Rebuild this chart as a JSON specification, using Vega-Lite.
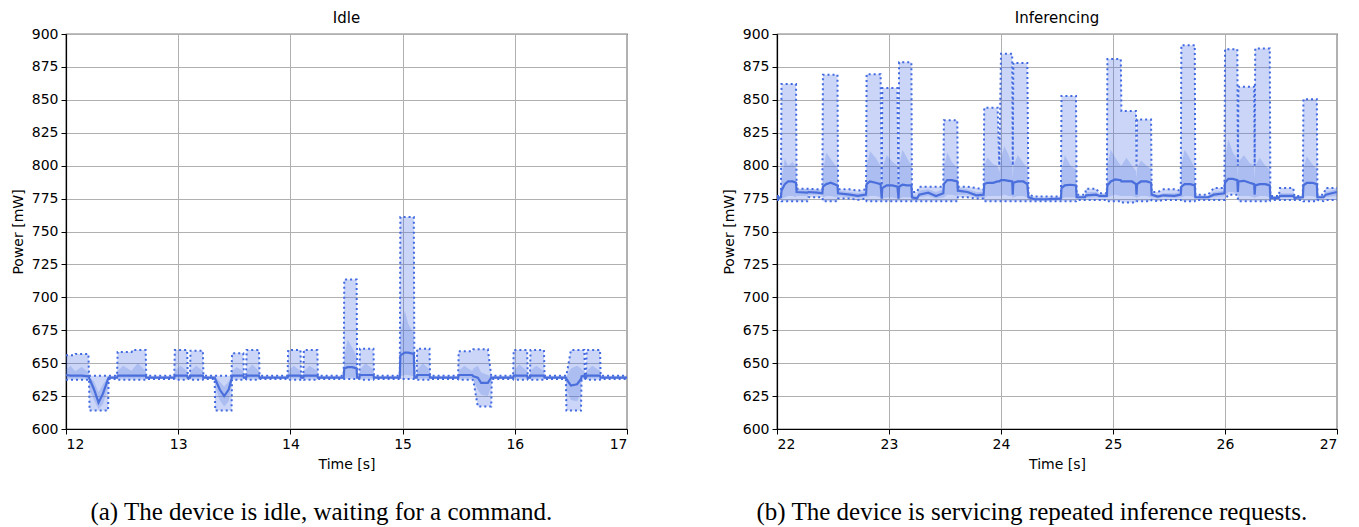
{
  "$schema": "https://vega.github.io/schema/vega-lite/v6.json",
  "padding": {"left": 10, "top": 10, "right": 10, "bottom": 2},
  "config": {
    "view": {"stroke": "#000000", "strokeWidth": 1.2},
    "axis": {
      "grid": true, "gridColor": "#b0b0b0", "gridWidth": 1,
      "domain": true, "domainColor": "#000000", "domainWidth": 1.2,
      "tickColor": "#000000", "tickSize": 5, "tickWidth": 1,
      "labelFont": "DejaVu Sans", "labelFontSize": 14, "labelColor": "#000000", "labelPadding": 3, "labelOverlap": false,
      "titleFont": "DejaVu Sans", "titleFontSize": 14, "titleFontWeight": "normal", "titleColor": "#000000", "titlePadding": 6
    },
    "title": {"font": "DejaVu Sans", "fontSize": 15, "fontWeight": "normal", "color": "#000000", "offset": 1}
  },
  "datasets": {
    "idle": [
      {"t":12.0,"mn":637.5,"mx":656,"m":641,"lo":638.5,"hi":645},
      {"t":12.04,"mn":637.5,"mx":656,"m":640.5,"lo":638.5,"hi":648},
      {"t":12.08,"mn":637.5,"mx":656,"m":640.5,"lo":638.5,"hi":644},
      {"t":12.085,"mn":637.5,"mx":657,"m":640.5,"lo":638.5,"hi":644},
      {"t":12.14,"mn":637.5,"mx":657,"m":640.5,"lo":638.5,"hi":647},
      {"t":12.2,"mn":637.5,"mx":657,"m":640,"lo":638.5,"hi":643},
      {"t":12.205,"mn":638,"mx":640.5,"m":639,"lo":638.5,"hi":639.5},
      {"t":12.21,"mn":614,"mx":640.5,"m":638,"lo":630,"hi":639.5},
      {"t":12.25,"mn":614,"mx":640.5,"m":630,"lo":622,"hi":636},
      {"t":12.29,"mn":614,"mx":640.5,"m":620,"lo":615,"hi":628},
      {"t":12.33,"mn":614,"mx":640.5,"m":627,"lo":619,"hi":634},
      {"t":12.375,"mn":614,"mx":640.5,"m":638,"lo":632,"hi":639.5},
      {"t":12.38,"mn":638,"mx":640.5,"m":639,"lo":638.5,"hi":639.5},
      {"t":12.455,"mn":638,"mx":640.5,"m":639,"lo":638.5,"hi":639.5},
      {"t":12.46,"mn":637.5,"mx":658.5,"m":640.5,"lo":638.5,"hi":644},
      {"t":12.51,"mn":637.5,"mx":658.5,"m":640.5,"lo":638.5,"hi":648},
      {"t":12.585,"mn":637.5,"mx":658.5,"m":640.5,"lo":638.5,"hi":644},
      {"t":12.59,"mn":637.5,"mx":660,"m":640.5,"lo":638.5,"hi":645},
      {"t":12.64,"mn":637.5,"mx":660,"m":640.5,"lo":638.5,"hi":650},
      {"t":12.71,"mn":637.5,"mx":660,"m":640.5,"lo":638.5,"hi":644},
      {"t":12.715,"mn":638,"mx":640.5,"m":639,"lo":638.5,"hi":639.5},
      {"t":12.965,"mn":638,"mx":640.5,"m":639,"lo":638.5,"hi":639.5},
      {"t":12.97,"mn":637.5,"mx":660,"m":640.5,"lo":638.5,"hi":644},
      {"t":13.02,"mn":637.5,"mx":660,"m":640.5,"lo":638.5,"hi":648},
      {"t":13.08,"mn":637.5,"mx":660,"m":640.5,"lo":638.5,"hi":644},
      {"t":13.085,"mn":638,"mx":640.5,"m":639,"lo":638.5,"hi":639.5},
      {"t":13.105,"mn":638,"mx":640.5,"m":639,"lo":638.5,"hi":639.5},
      {"t":13.11,"mn":637.5,"mx":659.5,"m":640.5,"lo":638.5,"hi":644},
      {"t":13.16,"mn":637.5,"mx":659.5,"m":640.5,"lo":638.5,"hi":648},
      {"t":13.22,"mn":637.5,"mx":659.5,"m":640.5,"lo":638.5,"hi":644},
      {"t":13.225,"mn":638,"mx":640.5,"m":639,"lo":638.5,"hi":639.5},
      {"t":13.325,"mn":638,"mx":640.5,"m":639,"lo":638.5,"hi":639.5},
      {"t":13.33,"mn":614,"mx":640.5,"m":638,"lo":632,"hi":639.5},
      {"t":13.37,"mn":614,"mx":640.5,"m":630,"lo":622,"hi":636},
      {"t":13.41,"mn":614,"mx":640.5,"m":625,"lo":617,"hi":632},
      {"t":13.45,"mn":614,"mx":640.5,"m":630,"lo":621,"hi":636},
      {"t":13.475,"mn":614,"mx":640.5,"m":638,"lo":634,"hi":639.5},
      {"t":13.48,"mn":637.5,"mx":657.5,"m":640.5,"lo":638.5,"hi":644},
      {"t":13.52,"mn":637.5,"mx":657.5,"m":640.5,"lo":638.5,"hi":647},
      {"t":13.58,"mn":637.5,"mx":657.5,"m":640.5,"lo":638.5,"hi":644},
      {"t":13.585,"mn":638,"mx":640.5,"m":639,"lo":638.5,"hi":639.5},
      {"t":13.605,"mn":638,"mx":640.5,"m":639,"lo":638.5,"hi":639.5},
      {"t":13.61,"mn":637.5,"mx":660,"m":640.5,"lo":638.5,"hi":644},
      {"t":13.66,"mn":637.5,"mx":660,"m":640.5,"lo":638.5,"hi":649},
      {"t":13.72,"mn":637.5,"mx":660,"m":640.5,"lo":638.5,"hi":644},
      {"t":13.725,"mn":638,"mx":640.5,"m":639,"lo":638.5,"hi":639.5},
      {"t":13.975,"mn":638,"mx":640.5,"m":639,"lo":638.5,"hi":639.5},
      {"t":13.98,"mn":637.5,"mx":660,"m":640.5,"lo":638.5,"hi":644},
      {"t":14.03,"mn":637.5,"mx":660,"m":640.5,"lo":638.5,"hi":648},
      {"t":14.09,"mn":637.5,"mx":660,"m":640.5,"lo":638.5,"hi":644},
      {"t":14.095,"mn":638,"mx":640.5,"m":639,"lo":638.5,"hi":639.5},
      {"t":14.115,"mn":638,"mx":640.5,"m":639,"lo":638.5,"hi":639.5},
      {"t":14.12,"mn":637.5,"mx":660,"m":640.5,"lo":638.5,"hi":644},
      {"t":14.17,"mn":637.5,"mx":660,"m":640.5,"lo":638.5,"hi":648},
      {"t":14.24,"mn":637.5,"mx":660,"m":640.5,"lo":638.5,"hi":644},
      {"t":14.245,"mn":638,"mx":640.5,"m":639,"lo":638.5,"hi":639.5},
      {"t":14.475,"mn":638,"mx":640.5,"m":639,"lo":638.5,"hi":639.5},
      {"t":14.48,"mn":638,"mx":713.5,"m":646,"lo":639,"hi":655},
      {"t":14.51,"mn":638,"mx":713.5,"m":647,"lo":639,"hi":668},
      {"t":14.55,"mn":638,"mx":713.5,"m":647,"lo":639,"hi":662},
      {"t":14.59,"mn":638,"mx":713.5,"m":646,"lo":639,"hi":655},
      {"t":14.595,"mn":638,"mx":640.5,"m":639,"lo":638.5,"hi":639.5},
      {"t":14.615,"mn":638,"mx":640.5,"m":639,"lo":638.5,"hi":639.5},
      {"t":14.62,"mn":637.5,"mx":661,"m":641,"lo":638.5,"hi":645},
      {"t":14.67,"mn":637.5,"mx":661,"m":641,"lo":638.5,"hi":650},
      {"t":14.74,"mn":637.5,"mx":661,"m":641,"lo":638.5,"hi":645},
      {"t":14.745,"mn":638,"mx":640.5,"m":639,"lo":638.5,"hi":639.5},
      {"t":14.975,"mn":638,"mx":640.5,"m":639,"lo":638.5,"hi":639.5},
      {"t":14.98,"mn":638,"mx":761,"m":656,"lo":640,"hi":672},
      {"t":15.02,"mn":638,"mx":761,"m":658,"lo":641,"hi":690},
      {"t":15.05,"mn":638,"mx":761,"m":658,"lo":641,"hi":680},
      {"t":15.1,"mn":638,"mx":761,"m":657,"lo":640,"hi":672},
      {"t":15.105,"mn":638,"mx":640.5,"m":639,"lo":638.5,"hi":639.5},
      {"t":15.125,"mn":638,"mx":640.5,"m":639,"lo":638.5,"hi":639.5},
      {"t":15.13,"mn":637.5,"mx":661,"m":641,"lo":638.5,"hi":645},
      {"t":15.18,"mn":637.5,"mx":661,"m":641,"lo":638.5,"hi":650},
      {"t":15.24,"mn":637.5,"mx":661,"m":641,"lo":638.5,"hi":645},
      {"t":15.245,"mn":638,"mx":640.5,"m":639,"lo":638.5,"hi":639.5},
      {"t":15.495,"mn":638,"mx":640.5,"m":639,"lo":638.5,"hi":639.5},
      {"t":15.5,"mn":637.5,"mx":659,"m":641,"lo":638.5,"hi":644},
      {"t":15.55,"mn":637.5,"mx":659,"m":641,"lo":638.5,"hi":648},
      {"t":15.62,"mn":637.5,"mx":659,"m":641,"lo":638.5,"hi":644},
      {"t":15.63,"mn":637,"mx":660.5,"m":640,"lo":637,"hi":646},
      {"t":15.67,"mn":617,"mx":660.5,"m":639,"lo":630,"hi":648},
      {"t":15.7,"mn":617,"mx":660.5,"m":635,"lo":626,"hi":643},
      {"t":15.76,"mn":617,"mx":660.5,"m":635,"lo":625,"hi":641},
      {"t":15.79,"mn":617,"mx":640.5,"m":639,"lo":632,"hi":640},
      {"t":15.795,"mn":638,"mx":640.5,"m":639,"lo":638.5,"hi":639.5},
      {"t":15.985,"mn":638,"mx":640.5,"m":639,"lo":638.5,"hi":639.5},
      {"t":15.99,"mn":637.5,"mx":660,"m":640.5,"lo":638.5,"hi":644},
      {"t":16.04,"mn":637.5,"mx":660,"m":640.5,"lo":638.5,"hi":649},
      {"t":16.11,"mn":637.5,"mx":660,"m":640.5,"lo":638.5,"hi":644},
      {"t":16.115,"mn":638,"mx":640.5,"m":639,"lo":638.5,"hi":639.5},
      {"t":16.135,"mn":638,"mx":640.5,"m":639,"lo":638.5,"hi":639.5},
      {"t":16.14,"mn":637.5,"mx":660,"m":640.5,"lo":638.5,"hi":644},
      {"t":16.19,"mn":637.5,"mx":660,"m":640.5,"lo":638.5,"hi":648},
      {"t":16.26,"mn":637.5,"mx":660,"m":640.5,"lo":638.5,"hi":644},
      {"t":16.265,"mn":638,"mx":640.5,"m":639,"lo":638.5,"hi":639.5},
      {"t":16.455,"mn":638,"mx":640.5,"m":639,"lo":638.5,"hi":639.5},
      {"t":16.46,"mn":614,"mx":640.5,"m":638,"lo":630,"hi":639.5},
      {"t":16.5,"mn":614,"mx":660,"m":633,"lo":622,"hi":646},
      {"t":16.555,"mn":614,"mx":660,"m":634,"lo":621,"hi":648},
      {"t":16.59,"mn":614,"mx":660,"m":638,"lo":628,"hi":646},
      {"t":16.595,"mn":637.5,"mx":660,"m":640,"lo":638.5,"hi":645},
      {"t":16.62,"mn":637.5,"mx":660,"m":640.5,"lo":638.5,"hi":644},
      {"t":16.625,"mn":638,"mx":640.5,"m":639,"lo":638.5,"hi":639.5},
      {"t":16.635,"mn":638,"mx":640.5,"m":639,"lo":638.5,"hi":639.5},
      {"t":16.64,"mn":637.5,"mx":660,"m":640.5,"lo":638.5,"hi":644},
      {"t":16.69,"mn":637.5,"mx":660,"m":640.5,"lo":638.5,"hi":648},
      {"t":16.76,"mn":637.5,"mx":660,"m":640.5,"lo":638.5,"hi":644},
      {"t":16.765,"mn":638,"mx":640.5,"m":639,"lo":638.5,"hi":639.5},
      {"t":17.0,"mn":638,"mx":640.5,"m":639,"lo":638.5,"hi":639.5}
    ],
    "inf": [
      {"t":22.0,"mn":774,"mx":777,"m":775,"lo":774.5,"hi":776},
      {"t":22.035,"mn":774,"mx":777,"m":776,"lo":775,"hi":777},
      {"t":22.04,"mn":773,"mx":862,"m":781,"lo":775,"hi":790},
      {"t":22.07,"mn":773,"mx":862,"m":786,"lo":776,"hi":805},
      {"t":22.1,"mn":773,"mx":862,"m":788,"lo":777,"hi":800},
      {"t":22.14,"mn":773,"mx":862,"m":788,"lo":777,"hi":803},
      {"t":22.17,"mn":773,"mx":862,"m":787,"lo":776,"hi":798},
      {"t":22.175,"mn":773,"mx":782.5,"m":780,"lo":777,"hi":782},
      {"t":22.27,"mn":773,"mx":782.5,"m":779.5,"lo":777,"hi":782},
      {"t":22.28,"mn":776,"mx":782.5,"m":780,"lo":778,"hi":782},
      {"t":22.36,"mn":776,"mx":782,"m":779.5,"lo":778,"hi":781.5},
      {"t":22.405,"mn":776,"mx":782,"m":779,"lo":777.5,"hi":781},
      {"t":22.41,"mn":773,"mx":869,"m":784,"lo":776,"hi":795},
      {"t":22.44,"mn":773,"mx":869,"m":786,"lo":777,"hi":810},
      {"t":22.48,"mn":773,"mx":869,"m":787,"lo":777,"hi":805},
      {"t":22.54,"mn":773,"mx":869,"m":785,"lo":776,"hi":798},
      {"t":22.545,"mn":775,"mx":782,"m":779,"lo":777,"hi":781},
      {"t":22.65,"mn":775,"mx":782,"m":778,"lo":776,"hi":780},
      {"t":22.72,"mn":774,"mx":781,"m":777,"lo":775.5,"hi":779},
      {"t":22.795,"mn":775,"mx":782,"m":778,"lo":776,"hi":780},
      {"t":22.8,"mn":773,"mx":869.5,"m":786,"lo":776,"hi":800},
      {"t":22.83,"mn":773,"mx":869.5,"m":788,"lo":777,"hi":811},
      {"t":22.88,"mn":773,"mx":869.5,"m":787,"lo":777,"hi":806},
      {"t":22.925,"mn":773,"mx":869.5,"m":786,"lo":776,"hi":800},
      {"t":22.935,"mn":773,"mx":783,"m":775,"lo":774,"hi":778},
      {"t":22.94,"mn":773,"mx":859,"m":783,"lo":775,"hi":798},
      {"t":22.98,"mn":773,"mx":859,"m":785,"lo":776,"hi":808},
      {"t":23.03,"mn":773,"mx":859,"m":785,"lo":776,"hi":803},
      {"t":23.075,"mn":773,"mx":859,"m":784,"lo":775,"hi":800},
      {"t":23.085,"mn":773,"mx":783,"m":775,"lo":774,"hi":778},
      {"t":23.09,"mn":773,"mx":878.5,"m":784,"lo":775,"hi":800},
      {"t":23.12,"mn":773,"mx":878.5,"m":785.5,"lo":776,"hi":812},
      {"t":23.16,"mn":773,"mx":878.5,"m":785,"lo":776,"hi":806},
      {"t":23.2,"mn":773,"mx":878.5,"m":785,"lo":776,"hi":800},
      {"t":23.205,"mn":773,"mx":780,"m":776,"lo":774,"hi":778},
      {"t":23.25,"mn":773,"mx":780,"m":775,"lo":774,"hi":777},
      {"t":23.27,"mn":773,"mx":784,"m":778,"lo":776,"hi":781},
      {"t":23.35,"mn":773,"mx":784,"m":779.5,"lo":777,"hi":782},
      {"t":23.42,"mn":773,"mx":784,"m":777,"lo":775,"hi":780},
      {"t":23.485,"mn":773,"mx":784,"m":779,"lo":776,"hi":782},
      {"t":23.49,"mn":773,"mx":834.5,"m":786,"lo":776,"hi":798},
      {"t":23.52,"mn":773,"mx":834.5,"m":789,"lo":778,"hi":810},
      {"t":23.56,"mn":773,"mx":834.5,"m":789,"lo":778,"hi":803},
      {"t":23.61,"mn":773,"mx":834.5,"m":788,"lo":777,"hi":798},
      {"t":23.615,"mn":776,"mx":784,"m":781,"lo":778,"hi":783},
      {"t":23.7,"mn":776,"mx":784,"m":780,"lo":778,"hi":782},
      {"t":23.78,"mn":775,"mx":783,"m":777.5,"lo":776,"hi":780},
      {"t":23.845,"mn":775,"mx":782,"m":778,"lo":776,"hi":780},
      {"t":23.85,"mn":773,"mx":844,"m":786,"lo":776,"hi":800},
      {"t":23.88,"mn":773,"mx":844,"m":787,"lo":777,"hi":806},
      {"t":23.93,"mn":773,"mx":844,"m":787,"lo":777,"hi":801},
      {"t":23.97,"mn":773,"mx":844,"m":788,"lo":777,"hi":800},
      {"t":23.985,"mn":773,"mx":800,"m":788,"lo":777,"hi":795},
      {"t":24.0,"mn":773,"mx":885,"m":789,"lo":777,"hi":805},
      {"t":24.03,"mn":773,"mx":885,"m":789,"lo":778,"hi":815},
      {"t":24.07,"mn":773,"mx":885,"m":788.5,"lo":777,"hi":808},
      {"t":24.1,"mn":773,"mx":885,"m":788,"lo":777,"hi":800},
      {"t":24.105,"mn":773,"mx":800,"m":778,"lo":775,"hi":790},
      {"t":24.11,"mn":773,"mx":878,"m":787,"lo":776,"hi":800},
      {"t":24.15,"mn":773,"mx":878,"m":788,"lo":777,"hi":808},
      {"t":24.2,"mn":773,"mx":878,"m":788,"lo":777,"hi":802},
      {"t":24.235,"mn":773,"mx":878,"m":786,"lo":776,"hi":798},
      {"t":24.245,"mn":773,"mx":778,"m":776,"lo":774,"hi":777},
      {"t":24.3,"mn":773,"mx":776.5,"m":774.5,"lo":773.5,"hi":775.5},
      {"t":24.4,"mn":773,"mx":776.5,"m":774.5,"lo":773.5,"hi":775.5},
      {"t":24.535,"mn":773,"mx":776.5,"m":775,"lo":774,"hi":776},
      {"t":24.54,"mn":773,"mx":853,"m":783,"lo":775,"hi":795},
      {"t":24.57,"mn":773,"mx":853,"m":785,"lo":776,"hi":808},
      {"t":24.62,"mn":773,"mx":853,"m":785.5,"lo":776,"hi":800},
      {"t":24.67,"mn":773,"mx":853,"m":785,"lo":776,"hi":797},
      {"t":24.675,"mn":774,"mx":778,"m":776,"lo":775,"hi":777},
      {"t":24.75,"mn":774,"mx":778,"m":776,"lo":775,"hi":777},
      {"t":24.76,"mn":774,"mx":782.5,"m":777.5,"lo":775.5,"hi":780},
      {"t":24.85,"mn":774,"mx":782.5,"m":778,"lo":776,"hi":780},
      {"t":24.88,"mn":774,"mx":779,"m":777,"lo":775.5,"hi":778},
      {"t":24.945,"mn":774,"mx":779,"m":777,"lo":775.5,"hi":778},
      {"t":24.95,"mn":773,"mx":881,"m":785,"lo":776,"hi":800},
      {"t":24.98,"mn":773,"mx":881,"m":788,"lo":777,"hi":812},
      {"t":25.02,"mn":773,"mx":881,"m":789.5,"lo":778,"hi":806},
      {"t":25.07,"mn":773,"mx":881,"m":789,"lo":777,"hi":800},
      {"t":25.075,"mn":772,"mx":841.5,"m":788,"lo":777,"hi":800},
      {"t":25.12,"mn":772,"mx":841.5,"m":788,"lo":777,"hi":806},
      {"t":25.17,"mn":772,"mx":841.5,"m":788,"lo":777,"hi":800},
      {"t":25.205,"mn":772,"mx":841.5,"m":786,"lo":776,"hi":796},
      {"t":25.21,"mn":773,"mx":800,"m":778,"lo":775,"hi":790},
      {"t":25.215,"mn":773,"mx":835,"m":786,"lo":776,"hi":798},
      {"t":25.25,"mn":773,"mx":835,"m":788,"lo":777,"hi":804},
      {"t":25.3,"mn":773,"mx":835,"m":788,"lo":777,"hi":800},
      {"t":25.34,"mn":773,"mx":835,"m":787,"lo":776,"hi":797},
      {"t":25.345,"mn":774,"mx":780,"m":778,"lo":776,"hi":779},
      {"t":25.4,"mn":773,"mx":780,"m":776.5,"lo":775,"hi":778},
      {"t":25.45,"mn":774,"mx":782,"m":777.5,"lo":776,"hi":779},
      {"t":25.55,"mn":774,"mx":782,"m":777,"lo":775.5,"hi":779},
      {"t":25.605,"mn":774,"mx":781,"m":778,"lo":776,"hi":780},
      {"t":25.61,"mn":773,"mx":891.5,"m":784,"lo":776,"hi":800},
      {"t":25.64,"mn":773,"mx":891.5,"m":786,"lo":777,"hi":812},
      {"t":25.69,"mn":773,"mx":891.5,"m":786,"lo":777,"hi":805},
      {"t":25.73,"mn":773,"mx":891.5,"m":785,"lo":776,"hi":798},
      {"t":25.735,"mn":774,"mx":778,"m":776,"lo":775,"hi":777},
      {"t":25.85,"mn":774,"mx":778,"m":776,"lo":775,"hi":777},
      {"t":25.9,"mn":774,"mx":783,"m":778,"lo":776,"hi":780},
      {"t":25.995,"mn":774,"mx":783,"m":779,"lo":777,"hi":781},
      {"t":26.0,"mn":774,"mx":888.5,"m":787,"lo":778,"hi":805},
      {"t":26.03,"mn":778,"mx":888.5,"m":790,"lo":780,"hi":820},
      {"t":26.07,"mn":778,"mx":888.5,"m":790,"lo":780,"hi":810},
      {"t":26.11,"mn":778,"mx":888.5,"m":789,"lo":779,"hi":805},
      {"t":26.115,"mn":775,"mx":800,"m":780,"lo":777,"hi":790},
      {"t":26.12,"mn":773,"mx":860,"m":788,"lo":777,"hi":803},
      {"t":26.17,"mn":773,"mx":860,"m":788.5,"lo":777,"hi":808},
      {"t":26.22,"mn":773,"mx":860,"m":787,"lo":777,"hi":802},
      {"t":26.26,"mn":773,"mx":860,"m":786,"lo":776,"hi":800},
      {"t":26.265,"mn":773,"mx":800,"m":778,"lo":775,"hi":790},
      {"t":26.27,"mn":773,"mx":889,"m":785,"lo":776,"hi":800},
      {"t":26.31,"mn":773,"mx":889,"m":786,"lo":777,"hi":806},
      {"t":26.36,"mn":773,"mx":889,"m":786,"lo":777,"hi":800},
      {"t":26.4,"mn":773,"mx":889,"m":785,"lo":776,"hi":797},
      {"t":26.405,"mn":774,"mx":777,"m":775.5,"lo":774.5,"hi":776.5},
      {"t":26.48,"mn":774,"mx":777,"m":775.5,"lo":774.5,"hi":776.5},
      {"t":26.49,"mn":774,"mx":783,"m":777,"lo":775.5,"hi":779},
      {"t":26.61,"mn":774,"mx":783,"m":777,"lo":775.5,"hi":779},
      {"t":26.62,"mn":774,"mx":777,"m":775.5,"lo":774.5,"hi":776.5},
      {"t":26.695,"mn":774,"mx":777,"m":776,"lo":775,"hi":777},
      {"t":26.7,"mn":773,"mx":850.5,"m":785,"lo":776,"hi":798},
      {"t":26.73,"mn":773,"mx":850.5,"m":787,"lo":777,"hi":807},
      {"t":26.78,"mn":773,"mx":850.5,"m":787,"lo":777,"hi":801},
      {"t":26.82,"mn":773,"mx":850.5,"m":786,"lo":776,"hi":797},
      {"t":26.825,"mn":774,"mx":778,"m":776,"lo":775,"hi":777},
      {"t":26.88,"mn":773,"mx":778,"m":776,"lo":775,"hi":777},
      {"t":26.9,"mn":774,"mx":783,"m":778,"lo":776,"hi":780},
      {"t":27.0,"mn":774,"mx":783,"m":780,"lo":777,"hi":782}
    ]
  },
  "spacing": 89,
  "hconcat": [
    {
      "title": {"text": "(a) The device is idle, waiting for a command.", "orient": "bottom", "anchor": "middle", "font": "Liberation Serif", "fontSize": 25, "fontWeight": "normal", "color": "#000000", "offset": 28},
      "vconcat": [
        {
          "title": "Idle",
          "width": 561, "height": 395,
          "data": {"name": "idle"},
          "encoding": {
            "x": {"field": "t", "type": "quantitative", "scale": {"domain": [12, 17], "nice": false}, "axis": {"title": "Time [s]", "values": [12, 13, 14, 15, 16, 17]}}
          },
          "layer": [
            {"mark": {"type": "area", "color": "#4169e1", "opacity": 0.28}, "encoding": {"y": {"field": "mn", "type": "quantitative", "scale": {"domain": [600, 900], "nice": false}, "axis": {"title": "Power [mW]", "values": [600, 625, 650, 675, 700, 725, 750, 775, 800, 825, 850, 875, 900]}}, "y2": {"field": "mx"}}},
            {"mark": {"type": "area", "color": "#4169e1", "opacity": 0.22}, "encoding": {"y": {"field": "lo", "type": "quantitative", "axis": {"title": "Power [mW]", "values": [600, 625, 650, 675, 700, 725, 750, 775, 800, 825, 850, 875, 900]}}, "y2": {"field": "hi"}}},
            {"mark": {"type": "line", "color": "#4169e1", "strokeWidth": 2, "strokeDash": [2, 3]}, "encoding": {"y": {"field": "mx", "type": "quantitative", "axis": {"title": "Power [mW]", "values": [600, 625, 650, 675, 700, 725, 750, 775, 800, 825, 850, 875, 900]}}}},
            {"mark": {"type": "line", "color": "#4169e1", "strokeWidth": 2, "strokeDash": [2, 3]}, "encoding": {"y": {"field": "mn", "type": "quantitative", "axis": {"title": "Power [mW]", "values": [600, 625, 650, 675, 700, 725, 750, 775, 800, 825, 850, 875, 900]}}}},
            {"mark": {"type": "line", "color": "#4a6fdc", "strokeWidth": 2.2}, "encoding": {"y": {"field": "m", "type": "quantitative", "axis": {"title": "Power [mW]", "values": [600, 625, 650, 675, 700, 725, 750, 775, 800, 825, 850, 875, 900]}}}}
          ]
        }
      ]
    },
    {
      "title": {"text": "(b) The device is servicing repeated inference requests.", "orient": "bottom", "anchor": "middle", "font": "Liberation Serif", "fontSize": 25, "fontWeight": "normal", "color": "#000000", "offset": 28},
      "vconcat": [
        {
          "title": "Inferencing",
          "width": 560, "height": 395,
          "data": {"name": "inf"},
          "encoding": {
            "x": {"field": "t", "type": "quantitative", "scale": {"domain": [22, 27], "nice": false}, "axis": {"title": "Time [s]", "values": [22, 23, 24, 25, 26, 27]}}
          },
          "layer": [
            {"mark": {"type": "area", "color": "#4169e1", "opacity": 0.28}, "encoding": {"y": {"field": "mn", "type": "quantitative", "scale": {"domain": [600, 900], "nice": false}, "axis": {"title": "Power [mW]", "values": [600, 625, 650, 675, 700, 725, 750, 775, 800, 825, 850, 875, 900]}}, "y2": {"field": "mx"}}},
            {"mark": {"type": "area", "color": "#4169e1", "opacity": 0.22}, "encoding": {"y": {"field": "lo", "type": "quantitative", "axis": {"title": "Power [mW]", "values": [600, 625, 650, 675, 700, 725, 750, 775, 800, 825, 850, 875, 900]}}, "y2": {"field": "hi"}}},
            {"mark": {"type": "line", "color": "#4169e1", "strokeWidth": 2, "strokeDash": [2, 3]}, "encoding": {"y": {"field": "mx", "type": "quantitative", "axis": {"title": "Power [mW]", "values": [600, 625, 650, 675, 700, 725, 750, 775, 800, 825, 850, 875, 900]}}}},
            {"mark": {"type": "line", "color": "#4169e1", "strokeWidth": 2, "strokeDash": [2, 3]}, "encoding": {"y": {"field": "mn", "type": "quantitative", "axis": {"title": "Power [mW]", "values": [600, 625, 650, 675, 700, 725, 750, 775, 800, 825, 850, 875, 900]}}}},
            {"mark": {"type": "line", "color": "#4a6fdc", "strokeWidth": 2.2}, "encoding": {"y": {"field": "m", "type": "quantitative", "axis": {"title": "Power [mW]", "values": [600, 625, 650, 675, 700, 725, 750, 775, 800, 825, 850, 875, 900]}}}}
          ]
        }
      ]
    }
  ]
}
